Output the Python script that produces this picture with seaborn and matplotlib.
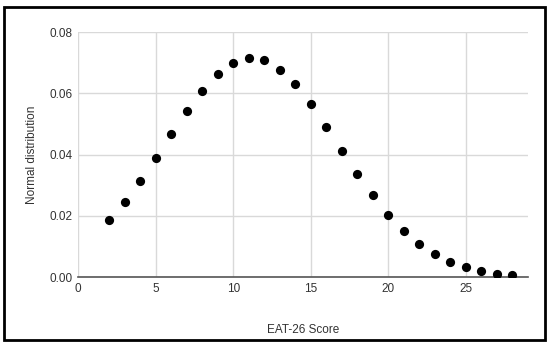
import numpy as np
import pandas as pd
import matplotlib.pyplot as plt
import seaborn as sns
from matplotlib.patches import Rectangle

# values
scores = [2, 3, 4, 5, 6, 7, 8, 9, 10, 11, 12, 13, 14, 15,
          16, 17, 18, 19, 20, 21, 22, 23, 24, 25, 26, 27, 28]
density = [0.0185, 0.0245, 0.0313, 0.0388, 0.0466, 0.0542, 0.0609, 0.0664,
           0.0700, 0.0715, 0.0707, 0.0677, 0.0629, 0.0565, 0.0491, 0.0413,
           0.0337, 0.0267, 0.0203, 0.0150, 0.0108, 0.0074, 0.0050, 0.0032,
           0.0021, 0.0011, 0.0007]
x_ticks = [0, 5, 10, 15, 20, 25]
y_ticks = [0.00, 0.02, 0.04, 0.06, 0.08]

df = pd.DataFrame({"EAT-26 Score": scores, "Normal distribution": density})

sns.set_style("white")
plt.rcParams['font.family'] = ['Liberation Sans', 'DejaVu Sans']

fig = plt.figure(figsize=(5.5, 3.48), dpi=100)
ax = fig.add_axes([0.142, 0.204, 0.818, 0.704])

sns.scatterplot(data=df, x="EAT-26 Score", y="Normal distribution", ax=ax,
                color="black", s=44, edgecolor="black", linewidth=0, zorder=3)

ax.set_xlim(0, 29)
ax.set_ylim(0, 0.08)
ax.set_xticks(x_ticks)
ax.set_yticks(y_ticks)
ax.set_yticklabels([f"{v:.2f}" for v in y_ticks])
ax.grid(True, color="#d9d9d9", linewidth=1)
ax.set_axisbelow(True)
for side in ["top", "right", "left"]:
    ax.spines[side].set_visible(False)
ax.spines["bottom"].set_color("#555555")
ax.spines["bottom"].set_linewidth(1.2)
ax.tick_params(axis="both", length=0, labelsize=8.5, colors="#333333", pad=4)
ax.set_xlabel("EAT-26 Score", fontsize=8.5, color="#333333", labelpad=21)
ax.set_ylabel("Normal distribution", fontsize=8.5, color="#333333", labelpad=8)

# black frame around the whole picture
fig.patches.append(Rectangle((0.008, 0.022), 0.982, 0.958, transform=fig.transFigure,
                             fill=False, edgecolor="black", linewidth=2))

plt.savefig("out.png", dpi=100)
